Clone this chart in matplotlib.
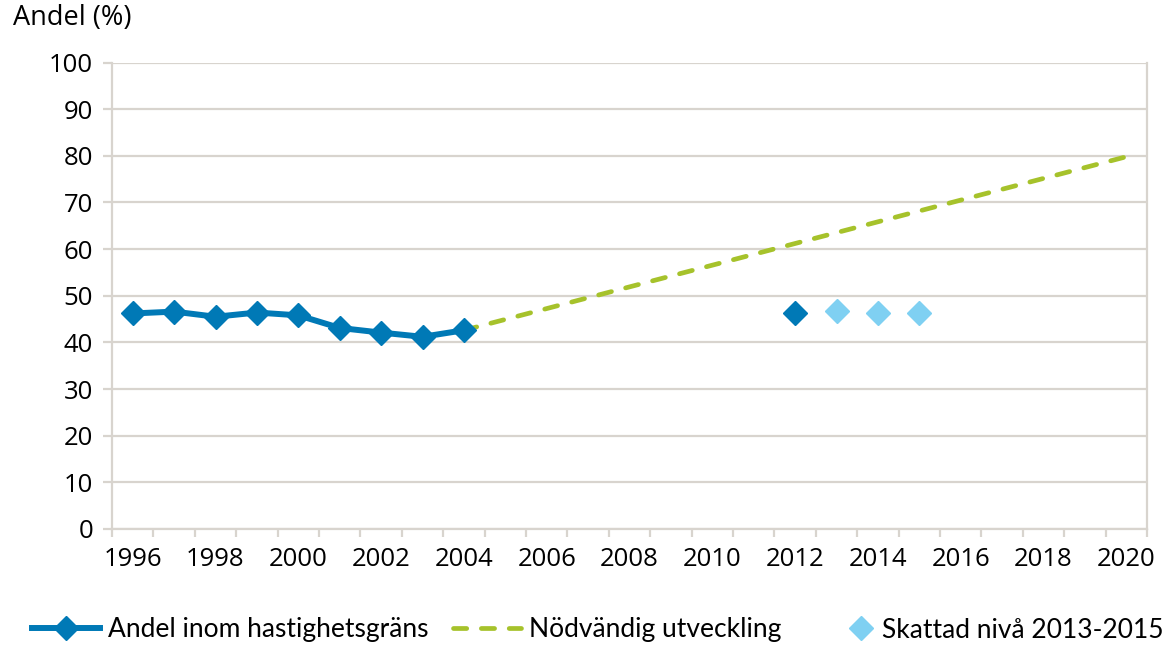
import matplotlib
matplotlib.use("Agg")
import numpy as np
from matplotlib import pyplot as plt
from matplotlib.ticker import FixedLocator, NullFormatter
from matplotlib.legend_handler import HandlerLine2D

plt.rcParams['font.family'] = ['Open Sans', 'DejaVu Sans']

years = list(range(1996, 2021))
obs_years = list(range(1996, 2005))
obs_values = [46.2, 46.6, 45.5, 46.4, 45.8, 43.1, 42.1, 41.2, 42.6]
need_years = [2004, 2020]
need_values = [42.6, 79.8]
meas_year = [2012]
meas_value = [46.2]
est_years = [2013, 2014, 2015]
est_values = [46.7, 46.4, 46.4]

blue = "#0079B6"
green = "#A6C22B"
light = "#7FD0F2"
grid = "#D8D4CE"

def pos(ys):
    return [y - years[0] for y in ys]


class MarkerRight(HandlerLine2D):
    # legend marker sits close to its text, like the original
    def create_artists(self, legend, orig_handle, xdescent, ydescent, width,
                       height, fontsize, trans):
        arts = super().create_artists(legend, orig_handle, xdescent, ydescent,
                                      width, height, fontsize, trans)
        for a in arts:
            a.set_xdata(np.asarray(a.get_xdata()) + 0.32 * width)
        return arts


fig = plt.figure(figsize=(11.67, 6.45), dpi=100)
ax = fig.add_axes([112/1167, 1 - 529/645, (1147 - 112)/1167, (529 - 62.5)/645])

ax.plot(pos(need_years), need_values, color=green, lw=3.4, ls=(0, (2.8, 3.1)),
        dash_capstyle='round', label="Nödvändig utveckling", zorder=3)
ax.plot(pos(obs_years), obs_values, color=blue, lw=4.3, marker='D', ms=12,
        label="Andel inom hastighetsgräns", zorder=4)
ax.plot(pos(meas_year), meas_value, ls='none', marker='D', ms=12, color=blue, zorder=4)
est_line, = ax.plot(pos(est_years), est_values, ls='none', marker='D', ms=12, color=light,
                    label="Skattad nivå 2013-2015", zorder=4)

ax.set_xlim(-0.5, len(years) - 0.5)
ax.set_ylim(0, 100)
ax.set_yticks(range(0, 101, 10))
ax.yaxis.grid(True, color=grid, lw=1.6)
ax.set_axisbelow(True)

ax.set_xticks(pos(years[::2]))
ax.set_xticklabels([str(y) for y in years[::2]])
ax.xaxis.set_minor_locator(FixedLocator([i - 0.5 for i in range(len(years) + 1)]))
ax.xaxis.set_minor_formatter(NullFormatter())
ax.tick_params(axis='x', which='major', length=0, pad=13, labelsize=18.5)
ax.tick_params(axis='x', which='minor', length=6, width=1.6, color=grid)
ax.tick_params(axis='y', length=6.5, width=1.6, color=grid, labelsize=18.5, pad=7)

for s in ['left', 'bottom', 'right']:
    ax.spines[s].set_color(grid)
    ax.spines[s].set_linewidth(1.6)
ax.spines['top'].set_visible(False)

fig.text(13/1167, 1 - 18/645, "Andel (%)", fontsize=19.5, va='center', ha='left')

h, l = ax.get_legend_handles_labels()
order = [1, 0, 2]
fig.legend([h[i] for i in order], [l[i] for i in order], loc='center',
           bbox_to_anchor=(0.512, 1 - 630/645), ncol=3, frameon=False,
           prop={'family': ['Lato', 'DejaVu Sans'], 'size': 19},
           handlelength=2.6, columnspacing=0.9, handletextpad=0.3,
           handler_map={est_line: MarkerRight()})

fig.savefig("out.png", dpi=100)
